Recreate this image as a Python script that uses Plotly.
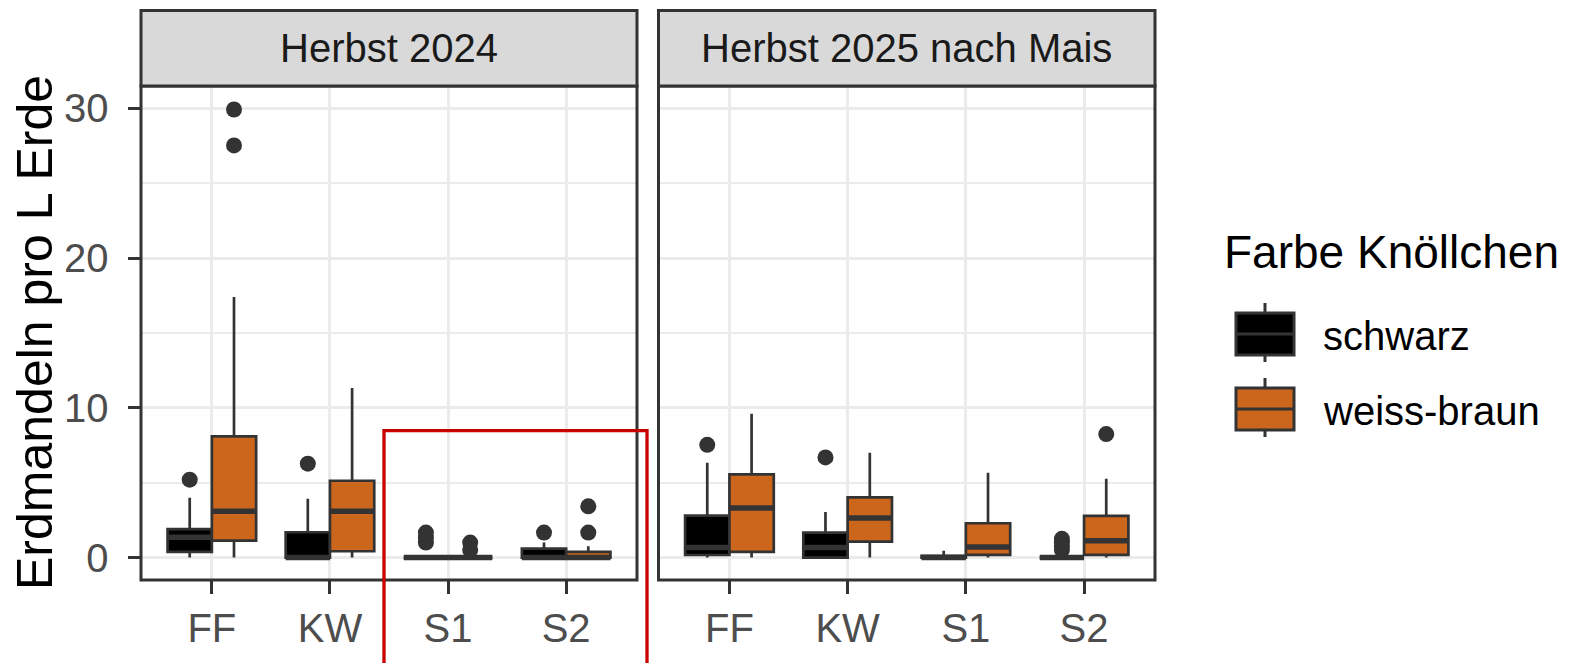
import plotly.graph_objects as go

W, H = 1573, 663

# ---------------- data ----------------
categories = ["FF", "KW", "S1", "S2"]
facets = ["Herbst 2024", "Herbst 2025 nach Mais"]
groups = ["schwarz", "weiss-braun"]
group_colors = ["#000000", "#CD661D"]

# Herbst 2024 - schwarz
h24_schwarz_q1 = [0.38, 0.0, 0.0, 0.0]
h24_schwarz_med = [1.35, 0.0, 0.0, 0.0]
h24_schwarz_q3 = [1.90, 1.69, 0.0, 0.6]
h24_schwarz_lo = [0.0, 0.0, 0.0, 0.0]
h24_schwarz_hi = [4.0, 3.93, 0.0, 1.0]
h24_schwarz_out = [[5.2], [6.27], [1.0, 1.33, 1.67], [1.67]]

# Herbst 2024 - weiss-braun
h24_weiss_q1 = [1.13, 0.42, 0.0, 0.0]
h24_weiss_med = [3.09, 3.09, 0.0, 0.0]
h24_weiss_q3 = [8.1, 5.13, 0.0, 0.38]
h24_weiss_lo = [0.0, 0.0, 0.0, 0.0]
h24_weiss_hi = [17.4, 11.33, 0.0, 0.75]
h24_weiss_out = [[27.53, 29.93], [], [0.5, 1.0], [1.67, 3.42]]

# Herbst 2025 nach Mais - schwarz
h25_schwarz_q1 = [0.17, 0.0, 0.0, 0.0]
h25_schwarz_med = [0.67, 0.67, 0.0, 0.0]
h25_schwarz_q3 = [2.8, 1.67, 0.12, 0.0]
h25_schwarz_lo = [0.0, 0.0, 0.0, 0.0]
h25_schwarz_hi = [6.33, 3.05, 0.45, 0.0]
h25_schwarz_out = [[7.53], [6.69], [], [0.5, 0.75, 1.0, 1.25]]

# Herbst 2025 nach Mais - weiss-braun
h25_weiss_q1 = [0.38, 1.07, 0.18, 0.18]
h25_weiss_med = [3.31, 2.64, 0.71, 1.13]
h25_weiss_q3 = [5.56, 4.02, 2.29, 2.78]
h25_weiss_lo = [0.0, 0.0, 0.0, 0.0]
h25_weiss_hi = [9.6, 7.0, 5.67, 5.27]
h25_weiss_out = [[], [], [], [8.25]]

y_ticks = [0, 10, 20, 30]
y_title = "Erdmandeln pro L Erde"
legend_title = "Farbe Knöllchen"

stats = {
    (0, 0): (h24_schwarz_q1, h24_schwarz_med, h24_schwarz_q3, h24_schwarz_lo, h24_schwarz_hi, h24_schwarz_out),
    (0, 1): (h24_weiss_q1, h24_weiss_med, h24_weiss_q3, h24_weiss_lo, h24_weiss_hi, h24_weiss_out),
    (1, 0): (h25_schwarz_q1, h25_schwarz_med, h25_schwarz_q3, h25_schwarz_lo, h25_schwarz_hi, h25_schwarz_out),
    (1, 1): (h25_weiss_q1, h25_weiss_med, h25_weiss_q3, h25_weiss_lo, h25_weiss_hi, h25_weiss_out),
}

# ---------------- layout helpers ----------------
def px(x):
    return x / W

def py(y):
    return 1 - y / H

FONT = "Liberation Sans, Arial, sans-serif"
DARK = "#333333"
GRID = "#EBEBEB"
dodge = 0.75
bw = dodge / 2  # width of each box

panel_top, panel_bot = 86, 580
strip_top = 10.5
x_domains = [[px(141), px(637)], [px(658.5), px(1155)]]

fig = go.Figure()

for fi in range(2):
    xa = "x" if fi == 0 else "x2"
    ya = "y" if fi == 0 else "y2"
    for gi in range(2):
        q1, med, q3, lo, hi, outs = stats[(fi, gi)]
        off = (gi - 0.5) * bw
        pos = [i + 1 + off for i in range(len(categories))]
        fig.add_trace(go.Box(
            x=pos, q1=q1, median=med, q3=q3, lowerfence=lo, upperfence=hi,
            width=bw, whiskerwidth=0, boxpoints=False,
            fillcolor=group_colors[gi], line=dict(color=DARK, width=2.7),
            xaxis=xa, yaxis=ya, showlegend=False, name=groups[gi],
        ))
        # thicker median lines (ggplot fatten)
        mx, my = [], []
        for p, m in zip(pos, med):
            mx += [p - bw / 2, p + bw / 2, None]
            my += [m, m, None]
        fig.add_trace(go.Scatter(
            x=mx, y=my, mode="lines", line=dict(color=DARK, width=5.5),
            xaxis=xa, yaxis=ya, showlegend=False, hoverinfo="skip",
        ))
        ox, oy = [], []
        for p, o in zip(pos, outs):
            ox += [p] * len(o)
            oy += o
        fig.add_trace(go.Scatter(
            x=ox, y=oy, mode="markers",
            marker=dict(color=DARK, size=16, line=dict(width=0)),
            xaxis=xa, yaxis=ya, showlegend=False,
        ))

axis_common = dict(
    showgrid=True, gridcolor=GRID, gridwidth=3, zeroline=False, showline=False,
    ticks="outside", ticklen=12.5, tickwidth=3, tickcolor=DARK,
    tickfont=dict(family=FONT, size=40, color="#4D4D4D"), automargin=False,
)

xcommon = dict(axis_common, range=[0.4, 4.6], tickmode="array",
               tickvals=[1, 2, 3, 4], ticktext=categories)
ycommon = dict(axis_common, range=[-1.5, 31.5], tickmode="array", tickvals=y_ticks,
               minor=dict(dtick=5, tick0=0, showgrid=True, gridcolor=GRID, gridwidth=1.8, ticks=""))

dom_y = [py(panel_bot), py(panel_top)]

fig.update_layout(
    width=W, height=H,
    margin=dict(l=0, r=0, t=0, b=0),
    paper_bgcolor="white", plot_bgcolor="white",
    font=dict(family=FONT),
    xaxis=dict(xcommon, domain=x_domains[0], anchor="y"),
    xaxis2=dict(xcommon, domain=x_domains[1], anchor="y2"),
    yaxis=dict(ycommon, domain=dom_y, anchor="x", ticklabelstandoff=11),
    yaxis2=dict(ycommon, domain=dom_y, anchor="x2", matches="y", showticklabels=False, ticks=""),
    boxmode="overlay",
)

shapes = []
annotations = []
for fi in range(2):
    xs = "x" if fi == 0 else "x2"
    ys = "y" if fi == 0 else "y2"
    # panel border
    shapes.append(dict(type="rect", xref=f"{xs} domain", yref=f"{ys} domain",
                       x0=0, x1=1, y0=0, y1=1, line=dict(color=DARK, width=3), layer="above"))
    # strip
    shapes.append(dict(type="rect", xref=f"{xs} domain", yref="paper",
                       x0=0, x1=1, y0=py(panel_top), y1=py(strip_top),
                       fillcolor="#D9D9D9", line=dict(color=DARK, width=3), layer="above"))
    annotations.append(dict(xref=f"{xs} domain", yref="paper", x=0.5,
                            y=py((panel_top + strip_top) / 2), text=facets[fi],
                            showarrow=False, xanchor="center", yanchor="middle",
                            font=dict(family=FONT, size=40, color="#1A1A1A")))

# y-axis title
annotations.append(dict(xref="paper", yref="paper", x=px(35), y=py((panel_top + panel_bot) / 2),
                        text=y_title, textangle=-90, showarrow=False,
                        xanchor="center", yanchor="middle",
                        font=dict(family=FONT, size=50, color="black")))

# legend
annotations.append(dict(xref="paper", yref="paper", x=px(1222), y=py(252),
                        text=legend_title, showarrow=False, xanchor="left", yanchor="middle",
                        font=dict(family=FONT, size=46, color="black")))
key_tops = [313, 388]
for gi, g in enumerate(groups):
    t = key_tops[gi]
    b = t + 42
    cx = 1265
    shapes.append(dict(type="line", xref="paper", yref="paper", x0=px(cx), x1=px(cx),
                       y0=py(t - 10), y1=py(b + 7), line=dict(color=DARK, width=3)))
    shapes.append(dict(type="rect", xref="paper", yref="paper", x0=px(1236), x1=px(1294),
                       y0=py(b), y1=py(t), fillcolor=group_colors[gi],
                       line=dict(color=DARK, width=3)))
    shapes.append(dict(type="line", xref="paper", yref="paper", x0=px(1236), x1=px(1294),
                       y0=py((t + b) / 2), y1=py((t + b) / 2), line=dict(color=DARK, width=3)))
    annotations.append(dict(xref="paper", yref="paper", x=px(1321), y=py((t + b) / 2 + 2),
                            text=g, showarrow=False, xanchor="left", yanchor="middle",
                            font=dict(family=FONT, size=40, color="black")))

# red highlight rectangle
shapes.append(dict(type="rect", xref="paper", yref="paper", x0=px(384), x1=px(647),
                   y0=py(700), y1=py(430.7), line=dict(color="#C80000", width=3.3),
                   fillcolor="rgba(0,0,0,0)", layer="above"))

fig.update_layout(shapes=shapes, annotations=annotations)

fig.write_html("out.html", config={"displayModeBar": False},
               post_script="document.body.style.margin='0';document.body.style.padding='0';")
